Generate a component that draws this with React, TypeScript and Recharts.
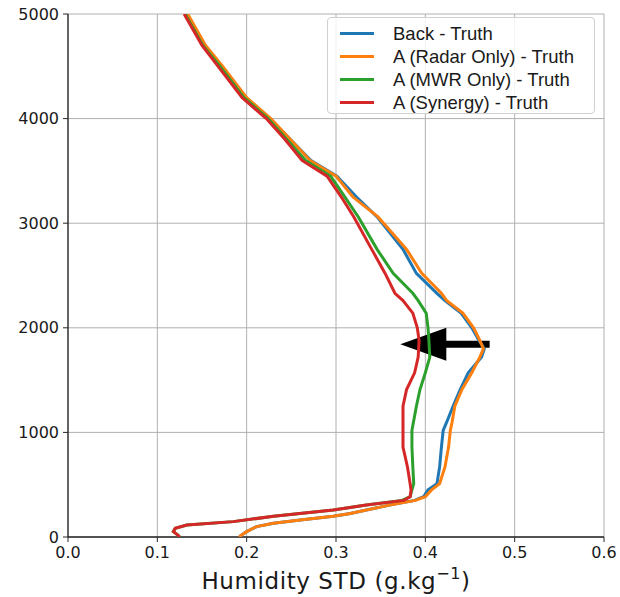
import React from 'react';
import {
  ScatterChart,
  Scatter,
  XAxis,
  YAxis,
  CartesianGrid,
  ReferenceLine,
  Legend,
} from 'recharts';

// ---- data ----
const hBack = [5000, 4700, 4500, 4200, 4000, 3800, 3600, 3450, 3250, 3060, 2750, 2520, 2330, 2260, 2140, 2000, 1880, 1800, 1720, 1570, 1410, 1250, 1100, 1020, 860, 670, 510, 450, 385, 350, 305, 258, 225, 198, 163, 131, 99, 51, 12, 0];
const backTruth = [0.133, 0.153, 0.172, 0.199, 0.226, 0.249, 0.272, 0.301, 0.323, 0.346, 0.375, 0.390, 0.413, 0.422, 0.440, 0.452, 0.460, 0.466, 0.463, 0.448, 0.439, 0.431, 0.424, 0.420, 0.418, 0.416, 0.413, 0.403, 0.398, 0.388, 0.360, 0.334, 0.316, 0.297, 0.260, 0.230, 0.211, 0.200, 0.193, 0.192];
const radarTruth = [0.134, 0.154, 0.173, 0.200, 0.227, 0.249, 0.271, 0.300, 0.319, 0.347, 0.379, 0.396, 0.418, 0.424, 0.442, 0.454, 0.461, 0.465, 0.461, 0.452, 0.441, 0.433, 0.430, 0.428, 0.426, 0.422, 0.416, 0.407, 0.400, 0.389, 0.360, 0.334, 0.316, 0.297, 0.260, 0.230, 0.211, 0.200, 0.193, 0.192];

const hAna = [5000, 4700, 4500, 4200, 4000, 3800, 3600, 3450, 3250, 3060, 2750, 2520, 2330, 2260, 2140, 2000, 1880, 1720, 1570, 1410, 1250, 1020, 860, 670, 510, 450, 385, 350, 305, 258, 198, 147, 115, 83, 51, 19, 0];
const mwrTruth = [0.131, 0.151, 0.170, 0.197, 0.224, 0.245, 0.266, 0.294, 0.310, 0.325, 0.346, 0.364, 0.386, 0.392, 0.401, 0.403, 0.404, 0.405, 0.400, 0.394, 0.390, 0.385, 0.385, 0.386, 0.387, 0.385, 0.383, 0.374, 0.334, 0.297, 0.230, 0.185, 0.133, 0.120, 0.118, 0.123, 0.125];
const synergyTruth = [0.130, 0.150, 0.168, 0.195, 0.222, 0.243, 0.262, 0.290, 0.306, 0.320, 0.340, 0.355, 0.366, 0.375, 0.386, 0.391, 0.393, 0.392, 0.388, 0.379, 0.375, 0.375, 0.375, 0.380, 0.383, 0.384, 0.383, 0.376, 0.334, 0.297, 0.230, 0.185, 0.133, 0.120, 0.118, 0.123, 0.125];

const seriesNames = ['Back - Truth', 'A (Radar Only) - Truth', 'A (MWR Only) - Truth', 'A (Synergy) - Truth'];
const xTicks = [0, 0.1, 0.2, 0.3, 0.4, 0.5, 0.6];
const yTicks = [0, 1000, 2000, 3000, 4000, 5000];
const arrowTail = 0.472;
const arrowTip = 0.372;
const arrowHeight = 1842;

// ---- styling ----
const COLORS = ['#1f77b4', '#ff7f0e', '#2ca02c', '#d62728'];
const AXIS = '#262626';
const FONT = 'DejaVu Sans';

const toPts = (hs: number[], vs: number[]) => hs.map((h, i) => ({ x: vs[i], y: h }));

const series = [
  { name: seriesNames[0], data: toPts(hBack, backTruth), color: COLORS[0] },
  { name: seriesNames[1], data: toPts(hBack, radarTruth), color: COLORS[1] },
  { name: seriesNames[2], data: toPts(hAna, mwrTruth), color: COLORS[2] },
  { name: seriesNames[3], data: toPts(hAna, synergyTruth), color: COLORS[3] },
];

const NoDot = () => <g />;

const ArrowShape = (p: any) => {
  const { x1, y1, x2 } = p;
  const tail = Math.max(x1, x2);
  const tip = Math.min(x1, x2);
  const headLen = 46;
  const headHalf = 16.5;
  return (
    <g>
      <line x1={tail} y1={y1} x2={tip + headLen - 2} y2={y1} stroke="#000" strokeWidth={7} />
      <polygon
        points={`${tip},${y1} ${tip + headLen},${y1 - headHalf} ${tip + headLen},${y1 + headHalf}`}
        fill="#000"
      />
    </g>
  );
};

const LegendBox = () => (
  <div
    style={{
      width: 268,
      height: 97,
      border: '1px solid #d0d0d0',
      borderRadius: 4,
      background: 'rgba(255,255,255,0.85)',
      boxSizing: 'border-box',
      paddingTop: 4,
      fontFamily: 'Liberation Sans',
      fontSize: 18.5,
      color: '#1a1a1a',
    }}
  >
    {series.map((s) => (
      <div key={s.name} style={{ display: 'flex', alignItems: 'center', height: 23 }}>
        <div style={{ marginLeft: 12, width: 34, height: 3, background: s.color }} />
        <div style={{ marginLeft: 19, whiteSpace: 'nowrap' }}>{s.name}</div>
      </div>
    ))}
  </div>
);

const XLabel = (p: any) => {
  const vb = p.viewBox || {};
  const cx = vb.x + vb.width / 2;
  return (
    <text x={cx} y={589} textAnchor="middle" fontFamily={FONT} fontSize={23} fill="#1a1a1a" letterSpacing={0.6}>
      Humidity STD (g.kg
      <tspan fontSize={16} dy={-10}>−1</tspan>
      <tspan dy={10}>)</tspan>
    </text>
  );
};

export default function App() {
  return (
    <div style={{ position: 'absolute', left: 0, top: 0, width: 620, height: 597, background: '#fff' }}>
      <ScatterChart width={620} height={597} margin={{ top: 14, right: 16, bottom: 0, left: 0 }}>
        <CartesianGrid stroke="#b0b0b0" strokeWidth={1} />
        <XAxis
          type="number"
          dataKey="x"
          domain={[0, 0.6]}
          ticks={xTicks}
          tickFormatter={(v: number) => v.toFixed(1)}
          height={60}
          tickSize={5}
          tickMargin={5}
          axisLine={{ stroke: AXIS, strokeWidth: 1.3 }}
          tickLine={{ stroke: AXIS }}
          tick={{ fontFamily: FONT, fontSize: 16, fill: '#1a1a1a' }}
          allowDataOverflow
          label={<XLabel />}
        />
        <XAxis
          xAxisId="top"
          orientation="top"
          type="number"
          domain={[0, 0.6]}
          height={0}
          tick={false}
          tickLine={false}
          axisLine={{ stroke: AXIS, strokeWidth: 1.3 }}
        />
        <YAxis
          type="number"
          dataKey="y"
          domain={[0, 5000]}
          ticks={yTicks}
          width={68}
          tickSize={5}
          tickMargin={4}
          axisLine={{ stroke: AXIS, strokeWidth: 1.3 }}
          tickLine={{ stroke: AXIS }}
          tick={{ fontFamily: FONT, fontSize: 16, fill: '#1a1a1a' }}
          allowDataOverflow
        />
        <YAxis
          yAxisId="right"
          orientation="right"
          type="number"
          domain={[0, 5000]}
          width={0}
          tick={false}
          tickLine={false}
          axisLine={{ stroke: AXIS, strokeWidth: 1.3 }}
        />
        {series.map((s) => (
          <Scatter
            key={s.name}
            name={s.name}
            data={s.data}
            line={{ stroke: s.color, strokeWidth: 3 }}
            lineType="joint"
            shape={NoDot}
            fill={s.color}
            isAnimationActive={false}
          />
        ))}
        <ReferenceLine
          segment={[
            { x: arrowTail, y: arrowHeight },
            { x: arrowTip, y: arrowHeight },
          ]}
          shape={ArrowShape}
          ifOverflow="visible"
        />
        <Legend
          layout="vertical"
          align="center"
          verticalAlign="middle"
          content={<LegendBox />}
          wrapperStyle={{ position: 'absolute', left: 327, top: 17, width: 268, height: 97 }}
        />
      </ScatterChart>
    </div>
  );
}
